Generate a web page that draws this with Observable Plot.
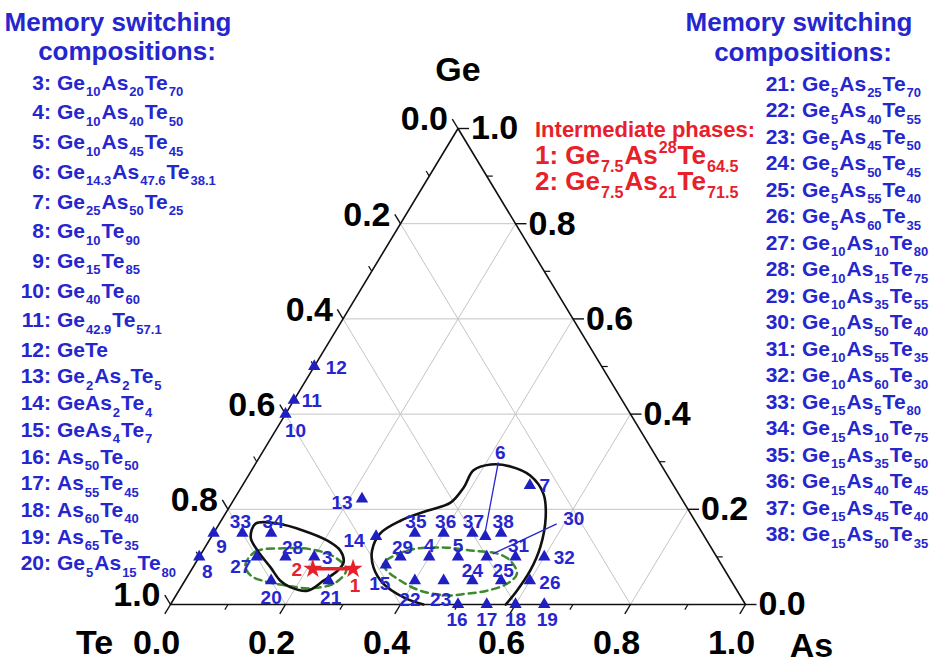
<!DOCTYPE html>
<html><head><meta charset="utf-8">
<script src="https://cdn.jsdelivr.net/npm/d3@7"></script>
<script src="https://cdn.jsdelivr.net/npm/@observablehq/plot@0.6"></script>
<style>
body{margin:0;background:#fff;}
#wrap{position:relative;width:933px;height:664px;overflow:hidden;font-family:"Liberation Sans",Arial,sans-serif;}
#wrap svg{position:absolute;left:0;top:0;}
.t{position:absolute;white-space:nowrap;line-height:1;font-weight:bold;}
.t sub{font-size:0.62em;vertical-align:-0.5em;line-height:0;padding:0 1px;}
.t sup{font-size:0.62em;vertical-align:0.7em;line-height:0;padding:0 1px;}
</style></head><body><div id="wrap"></div>
<script>
// ---------- data ----------
const ids  = [3,4,5,6,7,8,9,10,11,12,13,14,15,16,17,18,19,20,21,22,23,24,25,26,27,28,29,30,31,32,33,34,35,36,37,38];
const geP  = [10,10,10,14.3,25,10,15,40,42.9,50,22.2,14.3,8.3,0,0,0,0,5,5,5,5,5,5,5,10,10,10,10,10,10,15,15,15,15,15,15];
const asP  = [20,40,45,47.6,50,0,0,0,0,0,22.2,28.6,33.3,50,55,60,65,15,25,40,45,50,55,60,10,15,35,50,55,60,5,10,35,40,45,50];

const phaseIds = [2, 1];
const phaseGe  = [7.5, 7.5];
const phaseAs  = [21, 28];

const leftList = ["3: Ge_10As_20Te_70","4: Ge_10As_40Te_50","5: Ge_10As_45Te_45","6: Ge_14.3As_47.6Te_38.1",
  "7: Ge_25As_50Te_25","8: Ge_10Te_90","9: Ge_15Te_85","10: Ge_40Te_60","11: Ge_42.9Te_57.1","12: GeTe",
  "13: Ge_2As_2Te_5","14: GeAs_2Te_4","15: GeAs_4Te_7","16: As_50Te_50","17: As_55Te_45","18: As_60Te_40",
  "19: As_65Te_35","20: Ge_5As_15Te_80"];
const rightList = ["21: Ge_5As_25Te_70","22: Ge_5As_40Te_55","23: Ge_5As_45Te_50","24: Ge_5As_50Te_45",
  "25: Ge_5As_55Te_40","26: Ge_5As_60Te_35","27: Ge_10As_10Te_80","28: Ge_10As_15Te_75","29: Ge_10As_35Te_55",
  "30: Ge_10As_50Te_40","31: Ge_10As_55Te_35","32: Ge_10As_60Te_30","33: Ge_15As_5Te_80","34: Ge_15As_10Te_75",
  "35: Ge_15As_35Te_50","36: Ge_15As_40Te_45","37: Ge_15As_45Te_40","38: Ge_15As_50Te_35"];
const phaseTitle = "Intermediate phases:";
const phaseList = ["1: Ge_7.5As^28Te_64.5", "2: Ge_7.5As_21Te_71.5"];
const listTitle = ["Memory switching", "compositions:"];

const tickValues = [0, 0.2, 0.4, 0.6, 0.8, 1.0];
const tickLabels = ["0.0","0.2","0.4","0.6","0.8","1.0"];
const minorValues = [0.1, 0.3, 0.5, 0.7, 0.9];
const gridValues = [0.2, 0.4, 0.6, 0.8];

// contours, [Ge, As] in at.%
const loopLeftBlack = [[17,6.3],[17,10.1],[15.5,15.4],[13.4,20.6],[11.3,23.9],[8.8,25.7],[7.1,25.5],[5,24.1],[2.9,22.4],[3.6,19.1],[5,16.6],[7.8,13.5],[11.3,9.5],[14.1,6.9]];
const loopLeftGreen = [[8.2,8.9],[11.1,9.2],[11.8,13.8],[11.6,18.6],[10.1,23.3],[7.4,26.9],[4.6,26.4],[3.4,22.7],[4.0,18.0],[5.0,13.5],[6.1,10.9]];
const loopRightBlack = [[0,44],[1.5,39.8],[4.4,34.8],[7.8,31.4],[11.3,29.4],[14.9,29.0],[17.6,31.2],[19.7,34.8],[21.4,38.0],[24.6,38.7],[28.2,38.6],[29.4,41.0],[29.0,44.6],[27.1,49.0],[23.3,53.2],[18.3,56.1],[12.0,58.3],[7.1,59.0],[2.9,58.8],[0,58.3]];
const loopRightGreen = [[8.6,32.7],[11.3,35.5],[12.0,41.0],[11.3,47.0],[10.7,51.5],[9.2,54.5],[6.5,57.0],[4.4,56.4],[2.9,53.6],[2.3,50.5],[1.9,47.2],[2.9,42.0],[5.0,37.5],[7.1,34.1]];

// ---------- layout (pixels) ----------
const W = 933, H = 664, mL = 170, mR = 188, mT = 128, mB = 60;
const PW = W - mL - mR, PH = H - mT - mB;
const labelOffsets = {3:[13,1],4:[0,-11],5:[0,-11],6:[15,-84],7:[15,0],8:[8,15],9:[8,14],10:[10,17],11:[18,1],12:[22,1],
  13:[-20,4],14:[-22,4],15:[-6,19],16:[-1,15],17:[0,15],18:[0,15],19:[3,15],20:[0,17],21:[2,17],22:[-5,19],23:[-3,19],
  24:[0,-10],25:[2,-10],26:[20,2],27:[-16,10],28:[7,-9],29:[2,-9],30:[87,-38],31:[3,-11],32:[20,1],33:[-2,-11],
  34:[2,-11],35:[1,-11],36:[2,-11],37:[1,-11],38:[2,-11]};
const leaders = [{id:6, from:[-2,10], to:[0,-5]}, {id:30, from:[-17,5], to:[6,-3]}];
const phaseLabelOffsets = {1:[2,17], 2:[-16,1]};

const BLUE = "#2626cf", DOT = "#1f1fc2", RED = "#e8202a", GREEN = "#3d8a2e";

// ---------- helpers ----------
const tern = (ge, as) => ({x: as/100 + ge/200, y: ge/100});
const off = (p, o) => ({x: p.x + o[0]/PW, y: p.y - o[1]/PH});

const points = ids.map((id, i) => {
  const p = tern(geP[i], asP[i]);
  const l = off(p, labelOffsets[id]);
  return {id, x: p.x, y: p.y, lx: l.x, ly: l.y};
});
const byId = Object.fromEntries(points.map(d => [d.id, d]));
const leaderLinks = leaders.map(L => {
  const p = byId[L.id];
  const a = off({x:p.lx, y:p.ly}, L.from), b = off(p, L.to);
  return {x1:a.x, y1:a.y, x2:b.x, y2:b.y};
});
const phases = phaseIds.map((id, i) => {
  const p = tern(phaseGe[i], phaseAs[i]);
  const l = off(p, phaseLabelOffsets[id]);
  return {id, x:p.x, y:p.y, lx:l.x, ly:l.y};
});

const grid = [];
for (const v of gridValues) {
  const a = tern(v*100, 0), b = tern(v*100, (1-v)*100);
  grid.push({x1:a.x,y1:a.y,x2:b.x,y2:b.y});
  const c = tern(0, v*100), d = tern((1-v)*100, v*100);
  grid.push({x1:c.x,y1:c.y,x2:d.x,y2:d.y});
  const e = tern(0, (1-v)*100), f = tern((1-v)*100, 0);
  grid.push({x1:e.x,y1:e.y,x2:f.x,y2:f.y});
}
const frame = [tern(0,0), tern(0,100), tern(100,0), tern(0,0)];

const ux = 0.517, uy = 0.856;
function ticksFor(vals, len) {
  const out = [];
  for (const v of vals) {
    const r = {x: 1 - v/2, y: v};
    out.push({x1:r.x, y1:r.y, x2:r.x + len/PW, y2:r.y});
    const l = {x: (1-v)/2, y: 1-v};
    out.push({x1:l.x, y1:l.y, x2:l.x - ux*len/PW, y2:l.y + uy*len/PH});
    const b = {x: v, y: 0};
    out.push({x1:b.x, y1:b.y, x2:b.x - ux*len/PW, y2:b.y - uy*len/PH});
  }
  return out;
}
const majorTicks = ticksFor(tickValues, 11);
const minorTicks = ticksFor(minorValues, 6);

const leftLabels = tickValues.map((t, i) => ({x:(1-t)/2, y:1-t, text:tickLabels[i]}));
const rightLabels = tickValues.map((g, i) => ({x:1-g/2, y:g, text:tickLabels[i]}));
const bottomLabels = tickValues.map((a, i) => ({x:a, y:0, text:tickLabels[i]}));

const toXY = arr => arr.map(([g, a]) => tern(g, a));

const bigFont = 34, ptFont = 19;
const chart = Plot.plot({
  width: W, height: H, marginLeft: mL, marginRight: mR, marginTop: mT, marginBottom: mB,
  x: {domain:[0,1], axis:null}, y: {domain:[0,1], axis:null},
  style: {fontFamily: "'Liberation Sans', Arial, sans-serif", background: "transparent", overflow: "visible"},
  marks: [
    Plot.link(grid, {x1:"x1", y1:"y1", x2:"x2", y2:"y2", stroke:"#c4c4c4", strokeWidth:1}),
    Plot.line(toXY(loopLeftGreen), {x:"x", y:"y", curve:"catmull-rom-closed", stroke:GREEN, strokeWidth:2.5, strokeDasharray:"7,5"}),
    Plot.line(toXY(loopRightGreen), {x:"x", y:"y", curve:"catmull-rom-closed", stroke:GREEN, strokeWidth:2.5, strokeDasharray:"7,5"}),
    Plot.line(toXY(loopLeftBlack), {x:"x", y:"y", curve:"catmull-rom-closed", stroke:"#111", strokeWidth:2.6}),
    Plot.line(toXY(loopRightBlack), {x:"x", y:"y", curve:"catmull-rom", stroke:"#111", strokeWidth:2.6}),
    Plot.line(frame, {x:"x", y:"y", stroke:"#111", strokeWidth:1.6}),
    Plot.link(majorTicks, {x1:"x1", y1:"y1", x2:"x2", y2:"y2", stroke:"#111", strokeWidth:1.4}),
    Plot.link(minorTicks, {x1:"x1", y1:"y1", x2:"x2", y2:"y2", stroke:"#111", strokeWidth:1.2}),
    Plot.text(leftLabels, {x:"x", y:"y", text:"text", dx:-10, dy:-9, textAnchor:"end", lineAnchor:"middle", fontSize:bigFont, fontWeight:"bold", fill:"#000"}),
    Plot.text(rightLabels, {x:"x", y:"y", text:"text", dx:13, dy:0, textAnchor:"start", lineAnchor:"middle", fontSize:bigFont, fontWeight:"bold", fill:"#000"}),
    Plot.text(bottomLabels, {x:"x", y:"y", text:"text", dx:-14, dy:39, textAnchor:"middle", lineAnchor:"middle", fontSize:bigFont, fontWeight:"bold", fill:"#000"}),
    Plot.text([tern(100,0)], {x:"x", y:"y", text:() => "Ge", dy:-58, textAnchor:"middle", lineAnchor:"middle", fontSize:bigFont, fontWeight:"bold", fill:"#000"}),
    Plot.text([tern(0,0)], {x:"x", y:"y", text:() => "Te", dx:-76, dy:39, textAnchor:"middle", lineAnchor:"middle", fontSize:bigFont, fontWeight:"bold", fill:"#000"}),
    Plot.text([tern(0,100)], {x:"x", y:"y", text:() => "As", dx:66, dy:42, textAnchor:"middle", lineAnchor:"middle", fontSize:bigFont, fontWeight:"bold", fill:"#000"}),
    Plot.link(leaderLinks, {x1:"x1", y1:"y1", x2:"x2", y2:"y2", stroke:BLUE, strokeWidth:1.3}),
    Plot.dot(points, {x:"x", y:"y", symbol:"triangle", r:4.6, fill:DOT, stroke:"none"}),
    Plot.text(points, {x:"lx", y:"ly", text:d => String(d.id), textAnchor:"middle", lineAnchor:"middle", fontSize:ptFont, fontWeight:"bold", fill:BLUE}),
    Plot.line(phases, {x:"x", y:"y", stroke:RED, strokeWidth:3.5}),
    Plot.dot(phases, {x:"x", y:"y", symbol:"star", r:6, fill:RED, stroke:"none"}),
    Plot.text(phases, {x:"lx", y:"ly", text:d => String(d.id), textAnchor:"middle", lineAnchor:"middle", fontSize:ptFont, fontWeight:"bold", fill:RED})
  ]
});
const wrap = document.getElementById("wrap");
wrap.appendChild(chart);

// ---------- HTML text blocks ----------
const fmt = s => s.replace(/_([\d.]+)/g, "<sub>$1</sub>").replace(/\^([\d.]+)/g, "<sup>$1</sup>");
function place(html, x, y, fs, anchor, color) {
  const d = document.createElement("div");
  d.className = "t";
  d.innerHTML = html;
  d.style.fontSize = fs + "px";
  d.style.top = (y - 0.49*fs) + "px";
  d.style.color = color;
  if (anchor === "end") d.style.right = (W - x) + "px";
  else if (anchor === "middle") { d.style.left = x + "px"; d.style.transform = "translateX(-50%)"; }
  else d.style.left = x + "px";
  wrap.appendChild(d);
}
place(listTitle[0], 118, 22, 26, "middle", BLUE);
place(listTitle[1], 127, 51, 26, "middle", BLUE);
place(listTitle[0], 799, 22, 26, "middle", BLUE);
place(listTitle[1], 803, 52, 26, "middle", BLUE);
leftList.forEach((s, i) => {
  const y = i <= 9 ? 82 + i*29.7 : 349 + (i-9)*26.7;
  const [num, f] = s.split(": ");
  place(num + ":", 51, y, 21, "end", BLUE);
  place(fmt(f), 57, y, 21, "start", BLUE);
});
rightList.forEach((s, i) => {
  const y = 83 + i*26.5;
  const [num, f] = s.split(": ");
  place(num + ":", 796, y, 21, "end", BLUE);
  place(fmt(f), 802, y, 21, "start", BLUE);
});
place(phaseTitle, 535, 130, 22, "start", RED);
phaseList.forEach((s, i) => place(fmt(s), 535, 155 + i*26, 26, "start", RED));
</script></body></html>
